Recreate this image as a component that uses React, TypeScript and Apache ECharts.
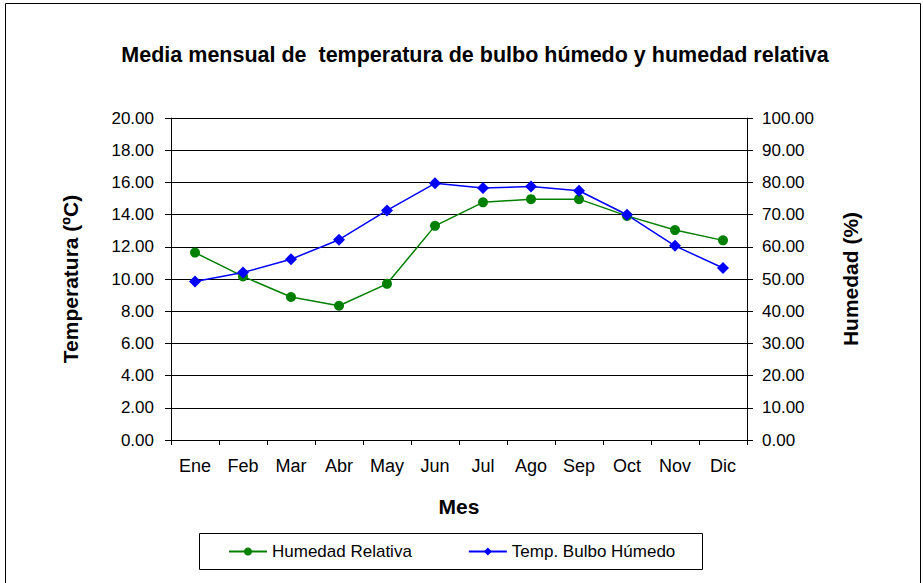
import React, { useEffect, useRef } from "react";
import * as echarts from "echarts";

const months = ["Ene", "Feb", "Mar", "Abr", "May", "Jun", "Jul", "Ago", "Sep", "Oct", "Nov", "Dic"];
const humedadRelativa = [58.2, 50.8, 44.4, 41.7, 48.5, 66.5, 73.8, 74.8, 74.8, 69.6, 65.2, 62.0];
const tempBulboHumedo = [9.84, 10.4, 11.23, 12.44, 14.26, 15.94, 15.65, 15.75, 15.48, 13.99, 12.06, 10.68];

const FONT = "'Liberation Sans', Arial, sans-serif";

export default function App() {
  const ref = useRef<HTMLDivElement>(null);
  useEffect(() => {
    if (!ref.current) return;
    const chart = echarts.init(ref.current, null, { renderer: "svg" });
    chart.setOption({
      animation: false,
      backgroundColor: "#ffffff",
      textStyle: { fontFamily: FONT },
      graphic: [
        {
          type: "rect",
          shape: { x: 5.5, y: 3.5, width: 915, height: 620 },
          style: { fill: "none", stroke: "#000", lineWidth: 1 },
          silent: true,
        },
        {
          type: "text",
          x: 475,
          y: 55,
          style: {
            text: "Media mensual de  temperatura de bulbo húmedo y humedad relativa",
            fontFamily: FONT,
            fontWeight: "bold",
            fontSize: 21.5,
            fill: "#000",
            textAlign: "center",
            textVerticalAlign: "middle",
          },
        },
        {
          type: "rect",
          shape: { x: 199.5, y: 533.5, width: 503, height: 36 },
          style: { fill: "#fff", stroke: "#000", lineWidth: 1 },
          z: -1,
        },
      ],
      legend: {
        left: 228,
        top: 543,
        padding: 0,
        itemWidth: 38,
        itemHeight: 10,
        itemGap: 56,
        textStyle: { fontFamily: FONT, fontSize: 17, color: "#000" },
        data: ["Humedad Relativa", "Temp. Bulbo Húmedo"],
      },
      grid: { left: 171, right: 176, top: 118, bottom: 143, containLabel: false },
      xAxis: {
        type: "category",
        data: months,
        boundaryGap: true,
        name: "Mes",
        nameLocation: "middle",
        nameGap: 56,
        nameTextStyle: { fontFamily: FONT, fontWeight: "bold", fontSize: 21, color: "#000" },
        axisLine: { lineStyle: { color: "#000", width: 1 } },
        axisTick: { show: true, length: 5, lineStyle: { color: "#000" } },
        axisLabel: { fontFamily: FONT, fontSize: 18, color: "#000", margin: 17 },
      },
      yAxis: [
        {
          type: "value",
          min: 0,
          max: 20,
          interval: 2,
          name: "Temperatura (ºC)",
          nameLocation: "middle",
          nameGap: 90,
          nameTextStyle: { fontFamily: FONT, fontWeight: "bold", fontSize: 21, color: "#000" },
          axisLine: { show: true, lineStyle: { color: "#000", width: 1 } },
          axisTick: { show: true, length: 6, lineStyle: { color: "#000" } },
          axisLabel: {
            fontFamily: FONT,
            fontSize: 17,
            color: "#000",
            margin: 17,
            formatter: (v: number) => v.toFixed(2),
          },
          splitLine: { show: true, lineStyle: { color: "#000", width: 1 } },
        },
        {
          type: "value",
          min: 0,
          max: 100,
          interval: 10,
          name: "Humedad (%)",
          nameLocation: "middle",
          nameGap: 93,
          nameRotate: 90,
          nameTextStyle: { fontFamily: FONT, fontWeight: "bold", fontSize: 21, color: "#000" },
          axisLine: { show: true, lineStyle: { color: "#000", width: 1 } },
          axisTick: { show: true, length: 6, lineStyle: { color: "#000" } },
          axisLabel: {
            fontFamily: FONT,
            fontSize: 17,
            color: "#000",
            margin: 15,
            formatter: (v: number) => v.toFixed(2),
          },
          splitLine: { show: false },
        },
      ],
      series: [
        {
          name: "Humedad Relativa",
          type: "line",
          yAxisIndex: 1,
          data: humedadRelativa,
          symbol: "circle",
          symbolSize: 10,
          itemStyle: { color: "#008000" },
          lineStyle: { color: "#008000", width: 1.5 },
        },
        {
          name: "Temp. Bulbo Húmedo",
          type: "line",
          yAxisIndex: 0,
          data: tempBulboHumedo,
          symbol: "diamond",
          symbolSize: 12,
          itemStyle: { color: "#0000ff" },
          lineStyle: { color: "#0000ff", width: 1.5 },
        },
      ],
    });
    return () => chart.dispose();
  }, []);
  return (
    <div
      ref={ref}
      style={{ position: "fixed", left: 0, top: 0, width: 923, height: 583, background: "#fff" }}
    />
  );
}
